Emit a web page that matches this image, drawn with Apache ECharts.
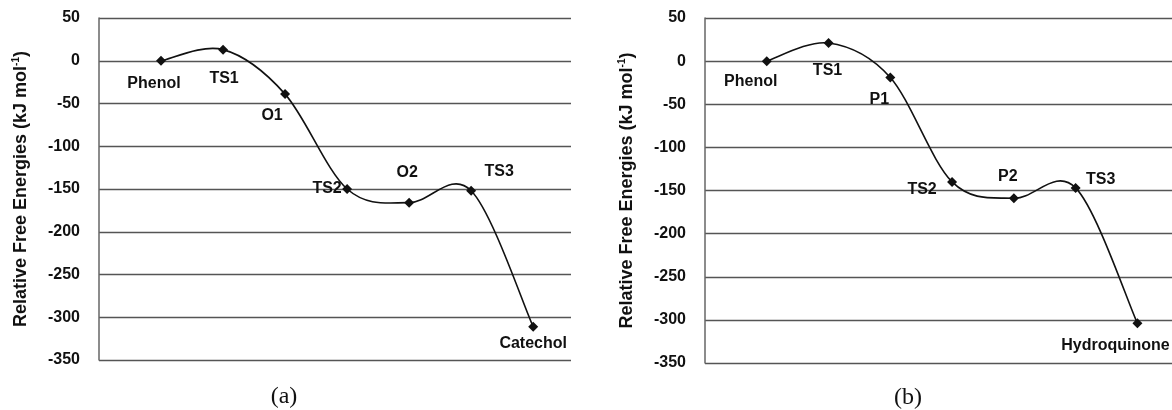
<!DOCTYPE html>
<html lang="en">
<head>
    <meta charset="UTF-8">
    <title>Relative free energies</title>
    <script src="https://cdn.jsdelivr.net/npm/echarts@6/dist/echarts.min.js"></script>
    <style>
        html, body { margin: 0; padding: 0; background: #fff; }
    </style>
</head>
<body>
    <div id="main" style="width: 1172px; height: 410px;"></div>
    <script type="text/javascript">
        // panel (a): phenol -> catechol
        var stagesA = ['Phenol', 'TS1', 'O1', 'TS2', 'O2', 'TS3', 'Catechol'];
        var energiesA = [0, 13, -39, -150, -166, -152, -311];
        // panel (b): phenol -> hydroquinone
        var stagesB = ['Phenol', 'TS1', 'P1', 'TS2', 'P2', 'TS3', 'Hydroquinone'];
        var energiesB = [0, 21, -19, -140, -159, -147, -304];
        // y axis ticks
        var yMin = -350, yMax = 50, yStep = 50;

        // label offsets from each point (layout only)
        var offsA = [[-7, 23], [1, 29], [-13, 21], [-20, 0], [-2, -30], [28, -19], [0, 17]];
        var offsB = [[-16, 20], [-1, 28], [-11, 22], [-30, 8], [-6, -22], [25, -8], [-22, 22]];

        var myChart = echarts.init(document.getElementById('main'));
        var font = 'Liberation Sans, Arial, sans-serif';

        function points(stages, values, offs) {
            return values.map(function (v, i) {
                return {
                    name: stages[i],
                    value: [i + 1, v],
                    label: { offset: offs[i] }
                };
            });
        }

        // smooth connecting curve (Catmull-Rom style, like a spreadsheet "smoothed line")
        function curve(values) {
            return function (params, api) {
                var i = params.dataIndex;
                var n = values.length;
                if (i >= n - 1) return null;
                var p = function (k) {
                    k = Math.max(0, Math.min(n - 1, k));
                    return api.coord([k + 1, values[k]]);
                };
                var p0 = p(i - 1), p1 = p(i), p2 = p(i + 1), p3 = p(i + 2);
                return {
                    type: 'bezierCurve',
                    shape: {
                        x1: p1[0], y1: p1[1],
                        x2: p2[0], y2: p2[1],
                        cpx1: p1[0] + (p2[0] - p0[0]) / 6,
                        cpy1: p1[1] + (p2[1] - p0[1]) / 6,
                        cpx2: p2[0] - (p3[0] - p1[0]) / 6,
                        cpy2: p2[1] - (p3[1] - p1[1]) / 6
                    },
                    style: { stroke: '#111', lineWidth: 1.6, fill: null }
                };
            };
        }

        function yAxis(gridIndex) {
            return {
                type: 'value',
                gridIndex: gridIndex,
                min: yMin,
                max: yMax,
                interval: yStep,
                name: '{a|Relative Free Energies (kJ mol}{s|-1}{a|)}',
                nameLocation: 'middle',
                nameGap: 68,
                nameRotate: 90,
                nameTextStyle: {
                    rich: {
                        a: { fontFamily: font, fontWeight: 'bold', fontSize: 18, color: '#111', lineHeight: 20 },
                        s: { fontFamily: font, fontWeight: 'bold', fontSize: 10, color: '#111', lineHeight: 20, verticalAlign: 'top' }
                    }
                },
                axisLine: { show: true, lineStyle: { color: '#666', width: 1.5 } },
                axisTick: { show: false },
                axisLabel: { fontFamily: font, fontWeight: 'bold', fontSize: 16, color: '#111', margin: 19 },
                splitLine: { show: true, lineStyle: { color: '#555', width: 1.3 } }
            };
        }

        function xAxis(gridIndex, max) {
            return {
                type: 'value',
                gridIndex: gridIndex,
                min: 0,
                max: max,
                show: false,
                splitLine: { show: false }
            };
        }

        function curveSeries(idx, values) {
            return {
                type: 'custom',
                xAxisIndex: idx,
                yAxisIndex: idx,
                data: values.map(function (v, i) { return [i + 1, v]; }),
                renderItem: curve(values),
                silent: true
            };
        }

        function pointSeries(idx, data) {
            return {
                type: 'scatter',
                xAxisIndex: idx,
                yAxisIndex: idx,
                data: data,
                symbol: 'diamond',
                symbolSize: 10,
                itemStyle: { color: '#111', opacity: 1 },
                label: {
                    show: true,
                    position: 'inside',
                    formatter: '{b}',
                    fontFamily: font,
                    fontWeight: 'bold',
                    fontSize: 16,
                    color: '#111',
                    opacity: 1
                },
                z: 3
            };
        }

        var option = {
            animation: false,
            backgroundColor: '#fff',
            grid: [
                { left: 99, top: 18, width: 472, height: 342 },
                { left: 705, top: 18, width: 467, height: 345 }
            ],
            xAxis: [xAxis(0, 7.61), xAxis(1, 7.56)],
            yAxis: [yAxis(0), yAxis(1)],
            series: [
                curveSeries(0, energiesA),
                pointSeries(0, points(stagesA, energiesA, offsA)),
                curveSeries(1, energiesB),
                pointSeries(1, points(stagesB, energiesB, offsB))
            ],
            graphic: [
                { type: 'text', x: 284, y: 397, style: { text: '(a)', font: '24px "Liberation Serif", "Times New Roman", serif', fill: '#111', align: 'center', verticalAlign: 'middle' } },
                { type: 'text', x: 908, y: 398, style: { text: '(b)', font: '24px "Liberation Serif", "Times New Roman", serif', fill: '#111', align: 'center', verticalAlign: 'middle' } }
            ]
        };

        myChart.setOption(option);
    </script>
</body>
</html>
